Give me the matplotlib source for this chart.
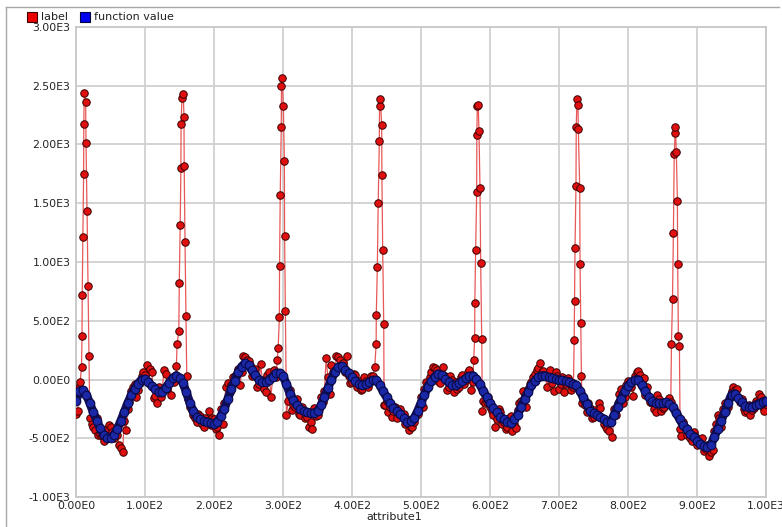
import numpy as np
import matplotlib
matplotlib.use("Agg")
import matplotlib.pyplot as plt
from matplotlib.ticker import FuncFormatter, MultipleLocator
from matplotlib.lines import Line2D
from matplotlib.patches import Rectangle

nan = np.nan

# ---- smooth "function value" series, read every 5 units of attribute1 ----
func_x = np.arange(0, 1001, 5)
func_y = [
    -180, -100, -90, -130, -200, -280, -350, -415, -470, -500,
    -495, -470, -420, -350, -275, -200, -135, -80, -35, 0,
    5, -25, -55, -85, -105, -105, -70, -30, 10, 32,
    15, -30, -110, -200, -270, -320, -340, -355, -362, -370,
    -375, -360, -310, -250, -165, -80, -10, 60, 110, 140,
    120, 80, 35, 0, -20, -25, 0, 25, 55, 55,
    30, -40, -120, -175, -220, -250, -270, -280, -288, -285,
    -270, -220, -150, -75, 0, 60, 105, 115, 85, 55,
    20, -15, -38, -50, -38, -20, -5, -5, -45, -100,
    -150, -200, -240, -265, -295, -330, -360, -355, -330, -270,
    -200, -130, -60, -15, 25, 50, 35, 5, -25, -45,
    -50, -30, -10, 10, 28, 34, 5, -40, -95, -150,
    -200, -245, -280, -315, -340, -360, -372, -340, -300, -235,
    -170, -110, -50, -10, 20, 34, 28, 18, 10, 5,
    0, -8, -15, -25, -35, -50, -95, -150, -210, -264,
    -285, -300, -320, -340, -360, -360, -300, -230, -165, -100,
    -55, -20, -5, 0, -45, -100, -150, -185, -198, -200,
    -200, -195, -205, -235, -285, -340, -390, -425, -460, -490,
    -520, -545, -570, -578, -560, -490, -420, -350, -280, -200,
    -130, -120, -160, -195, -225, -238, -230, -220, -205, -190,
    -179,
]

# ---- noisy "label" series, read every 5 units (x = 2.5, 7.5, ...) ----
label_x = np.arange(2.5, 1000, 5)
label_y = [
    -270, nan, nan, nan, -380, -430, -470, -480, -440, -390,
    -450, -420, -560, -620, -430, -190, -60, -150, -30, 60,
    120, 90, -160, -200, -150, 80, -80, -130, -20, nan,
    nan, nan, -170, -260, -330, -290, -380, -330, -270, -330,
    -420, -470, -380, -60, -110, 20, 40, -50, 200, 170,
    120, 40, -60, 130, -80, 40, -150, 80, nan, nan,
    nan, -180, -260, -230, -290, -230, -330, -400, -420, -310,
    -250, -190, 180, -120, 60, 200, 170, 140, 200, -30,
    50, -60, -90, 20, -60, 30, nan, nan, nan, -220,
    -280, -320, -230, -290, -310, -380, -430, -400, -300, -240,
    -230, -20, 20, 110, 80, -30, 110, -90, 30, -110,
    -80, 20, -40, 60, -90, nan, nan, nan, -200, -150,
    -270, -400, -250, -380, -420, -330, -440, -410, -200, -100,
    -230, -40, 20, 80, 140, 70, -60, 80, -100, 30,
    -40, -110, 10, -90, nan, nan, nan, -220, -200, -330,
    -260, -200, -330, -400, -440, -490, -300, -120, -200, -50,
    -30, -140, 60, 40, 10, -60, -190, -250, -130, -270,
    -230, -180, nan, nan, nan, -480, -400, -440, -520, -480,
    -540, -500, -590, -650, -600, -380, -330, -250, -270, -150,
    -60, -80, -190, -250, -270, -300, -240, -200, -150, -270,
]

# ---- more "label" points, read at x = 0, 5, 10, ... ----
label2_x = np.arange(0, 1001, 5)
label2_y = [
    -290, -60, nan, nan, -330, -400, -330, -460, -520, -420,
    -400, -500, -470, -580, -350, -250, -100, -40, -90, 30,
    40, -10, 60, -140, -60, -90, 50, -20, 20, 40,
    nan, nan, nan, -230, -300, -360, -310, -400, -350, -390,
    -340, -400, -250, -200, -30, -50, 30, 90, 60, 190,
    160, 30, 90, -40, 0, -110, 60, 20, 20, nan,
    nan, nan, -90, -220, -170, -300, -270, -320, -360, -240,
    -300, -150, -100, 20, 120, 80, 190, 100, 60, 30,
    -20, 40, -10, -80, -10, -30, 30, nan, nan, nan,
    -180, -230, -270, -330, -250, -290, -340, -400, -360, -290,
    -150, -80, -40, 60, 100, -10, 50, 30, -60, 0,
    -20, -60, 40, 0, 80, -20, nan, nan, -180, -190,
    -230, -300, -340, -280, -360, -400, -310, -380, -260, -180,
    -130, -80, -20, 50, 100, 60, 40, 20, -30, 60,
    -80, 20, -40, -10, -60, nan, nan, -170, -280, -240,
    -320, -280, -240, -380, -420, -360, -250, -200, -80, -150,
    -10, -60, 30, 70, -20, -130, -160, -200, -280, -170,
    -240, -200, -160, nan, nan, nan, -360, -470, -500, -450,
    -560, -520, -610, -560, -620, -440, -300, -400, -200, -230,
    -100, -90, -150, -170, -280, -220, -260, -180, -120, -230,
    -210,
]

# ---- label spikes ----
spike_x = [
    6, 8, 8.7, 9.0, 10, 11, 11.3, 12, 14, 14.5, 16, 17.4, 18.8,
    145.5, 146.5, 149, 149.7, 151, 152, 152.3, 153.6, 155.5, 156.5, 156.8, 158, 159.4, 160.5,
    291.7, 293, 294.7, 295, 296, 297.5, 297.8, 299, 300.5, 302, 302.3, 303.4, 305,
    433, 435, 435.2, 436.7, 438, 439.6, 439.9, 441, 443, 443.3, 444.5, 446, 446.5,
    576.4, 577.8, 578, 579.2, 580.7, 580.9, 581.6, 583, 584, 585.5, 586.5, 588, 589,
    721, 722, 722.5, 723.2, 724.6, 725, 726, 727.5, 728, 730, 730.5, 731.5, 732.5, 733.5,
    862, 863, 864.5, 865.8, 867, 868.2, 868.7, 870, 871.6, 872, 873, 874.5, 875.5,
]
spike_y = [
    -23, 110, 366, 723, 1217, 1745, 2178, 2437, 2360, 2017, 1432, 800, 204,
    119, 300, 411, 825, 1313, 1796, 2178, 2400, 2431, 2230, 1815, 1174, 539, 30,
    168, 270, 528, 962, 1574, 2153, 2496, 2568, 2326, 1858, 1223, 587, -306,
    105, 300, 545, 956, 1506, 2026, 2326, 2389, 2170, 1742, 1106, 471, -221,
    168, 355, 653, 1106, 1597, 2077, 2326, 2332, 2119, 1628, 990, 346, -264,
    -30, 332, 672, 1115, 1651, 2153, 2383, 2340, 2136, 1634, 987, 477, 30, -200,
    -190, 306, 689, 1251, 1923, 2094, 2145, 1940, 1523, 987, 374, 281, -420,
]

# combine label points, sorted by attribute1
lx = np.concatenate([label_x, label2_x, spike_x])
ly = np.concatenate([np.array(label_y, float), np.array(label2_y, float),
                     np.array(spike_y, float)])
keep = ~np.isnan(ly)
lx, ly = lx[keep], ly[keep]
order = np.argsort(lx, kind="stable")
lx, ly = lx[order], ly[order]

W, H = 782, 527
fig = plt.figure(figsize=(W / 100, H / 100), dpi=100)
ax = fig.add_axes([76 / W, 1 - 497 / H, (766 - 76) / W, (497 - 27) / H])

ax.plot(lx, ly, color="#e85858", lw=0.9, zorder=2)
ax.plot(lx, ly, ls="none", marker="o", ms=5.4, mfc="#e01010", mec="#3a0000",
        mew=0.7, zorder=3)
ax.plot(func_x, func_y, color="#10105e", lw=6.3, solid_capstyle="round",
        zorder=4)
ax.plot(func_x, func_y, ls="none", marker="o", ms=6.2, mfc="#1a28a8",
        mec="#0a0a48", mew=0.8, zorder=5)

ax.set_xlim(0, 1000)
ax.set_ylim(-1000, 3000)
ax.xaxis.set_major_locator(MultipleLocator(100))
ax.yaxis.set_major_locator(MultipleLocator(500))


def sci(v, pos):
    if v == 0:
        return "0.00E0"
    e = int(np.floor(np.log10(abs(v)) + 1e-9))
    m = v / 10 ** e
    return f"{m:.2f}E{e}"


ax.xaxis.set_major_formatter(FuncFormatter(sci))
ax.yaxis.set_major_formatter(FuncFormatter(sci))
ax.tick_params(length=0, labelsize=7.8, colors="#222222", pad=4)
ax.tick_params(axis="x", pad=3)
ax.grid(True, color="#d0d0d0", lw=1.3)
ax.set_axisbelow(True)
for s in ax.spines.values():
    s.set_color("#c8c8c8")
    s.set_linewidth(1.3)

fig.text(394 / W, 1 - 517 / H, "attribute1", ha="center", va="center",
         fontsize=8, color="#222222")

# legend
fig.add_artist(Rectangle((27 / W, 1 - 22 / H), 10 / W, 10 / H,
                         transform=fig.transFigure, facecolor="#ee0000",
                         edgecolor="#400000", lw=0.8))
fig.text(41 / W, 1 - 17 / H, "label", ha="left", va="center", fontsize=8,
         color="#222222")
fig.add_artist(Rectangle((80 / W, 1 - 22 / H), 10 / W, 10 / H,
                         transform=fig.transFigure, facecolor="#0000ee",
                         edgecolor="#000040", lw=0.8))
fig.text(94 / W, 1 - 17 / H, "function value", ha="left", va="center",
         fontsize=8, color="#222222")

# outer panel frame
fig.add_artist(Line2D([6 / W, 6 / W], [0, 1 - 7 / H], transform=fig.transFigure,
                      color="#a8a8a8", lw=1))
fig.add_artist(Line2D([6 / W, 779 / W], [1 - 7 / H, 1 - 7 / H],
                      transform=fig.transFigure, color="#a8a8a8", lw=1))

fig.savefig("out.png", dpi=100)
